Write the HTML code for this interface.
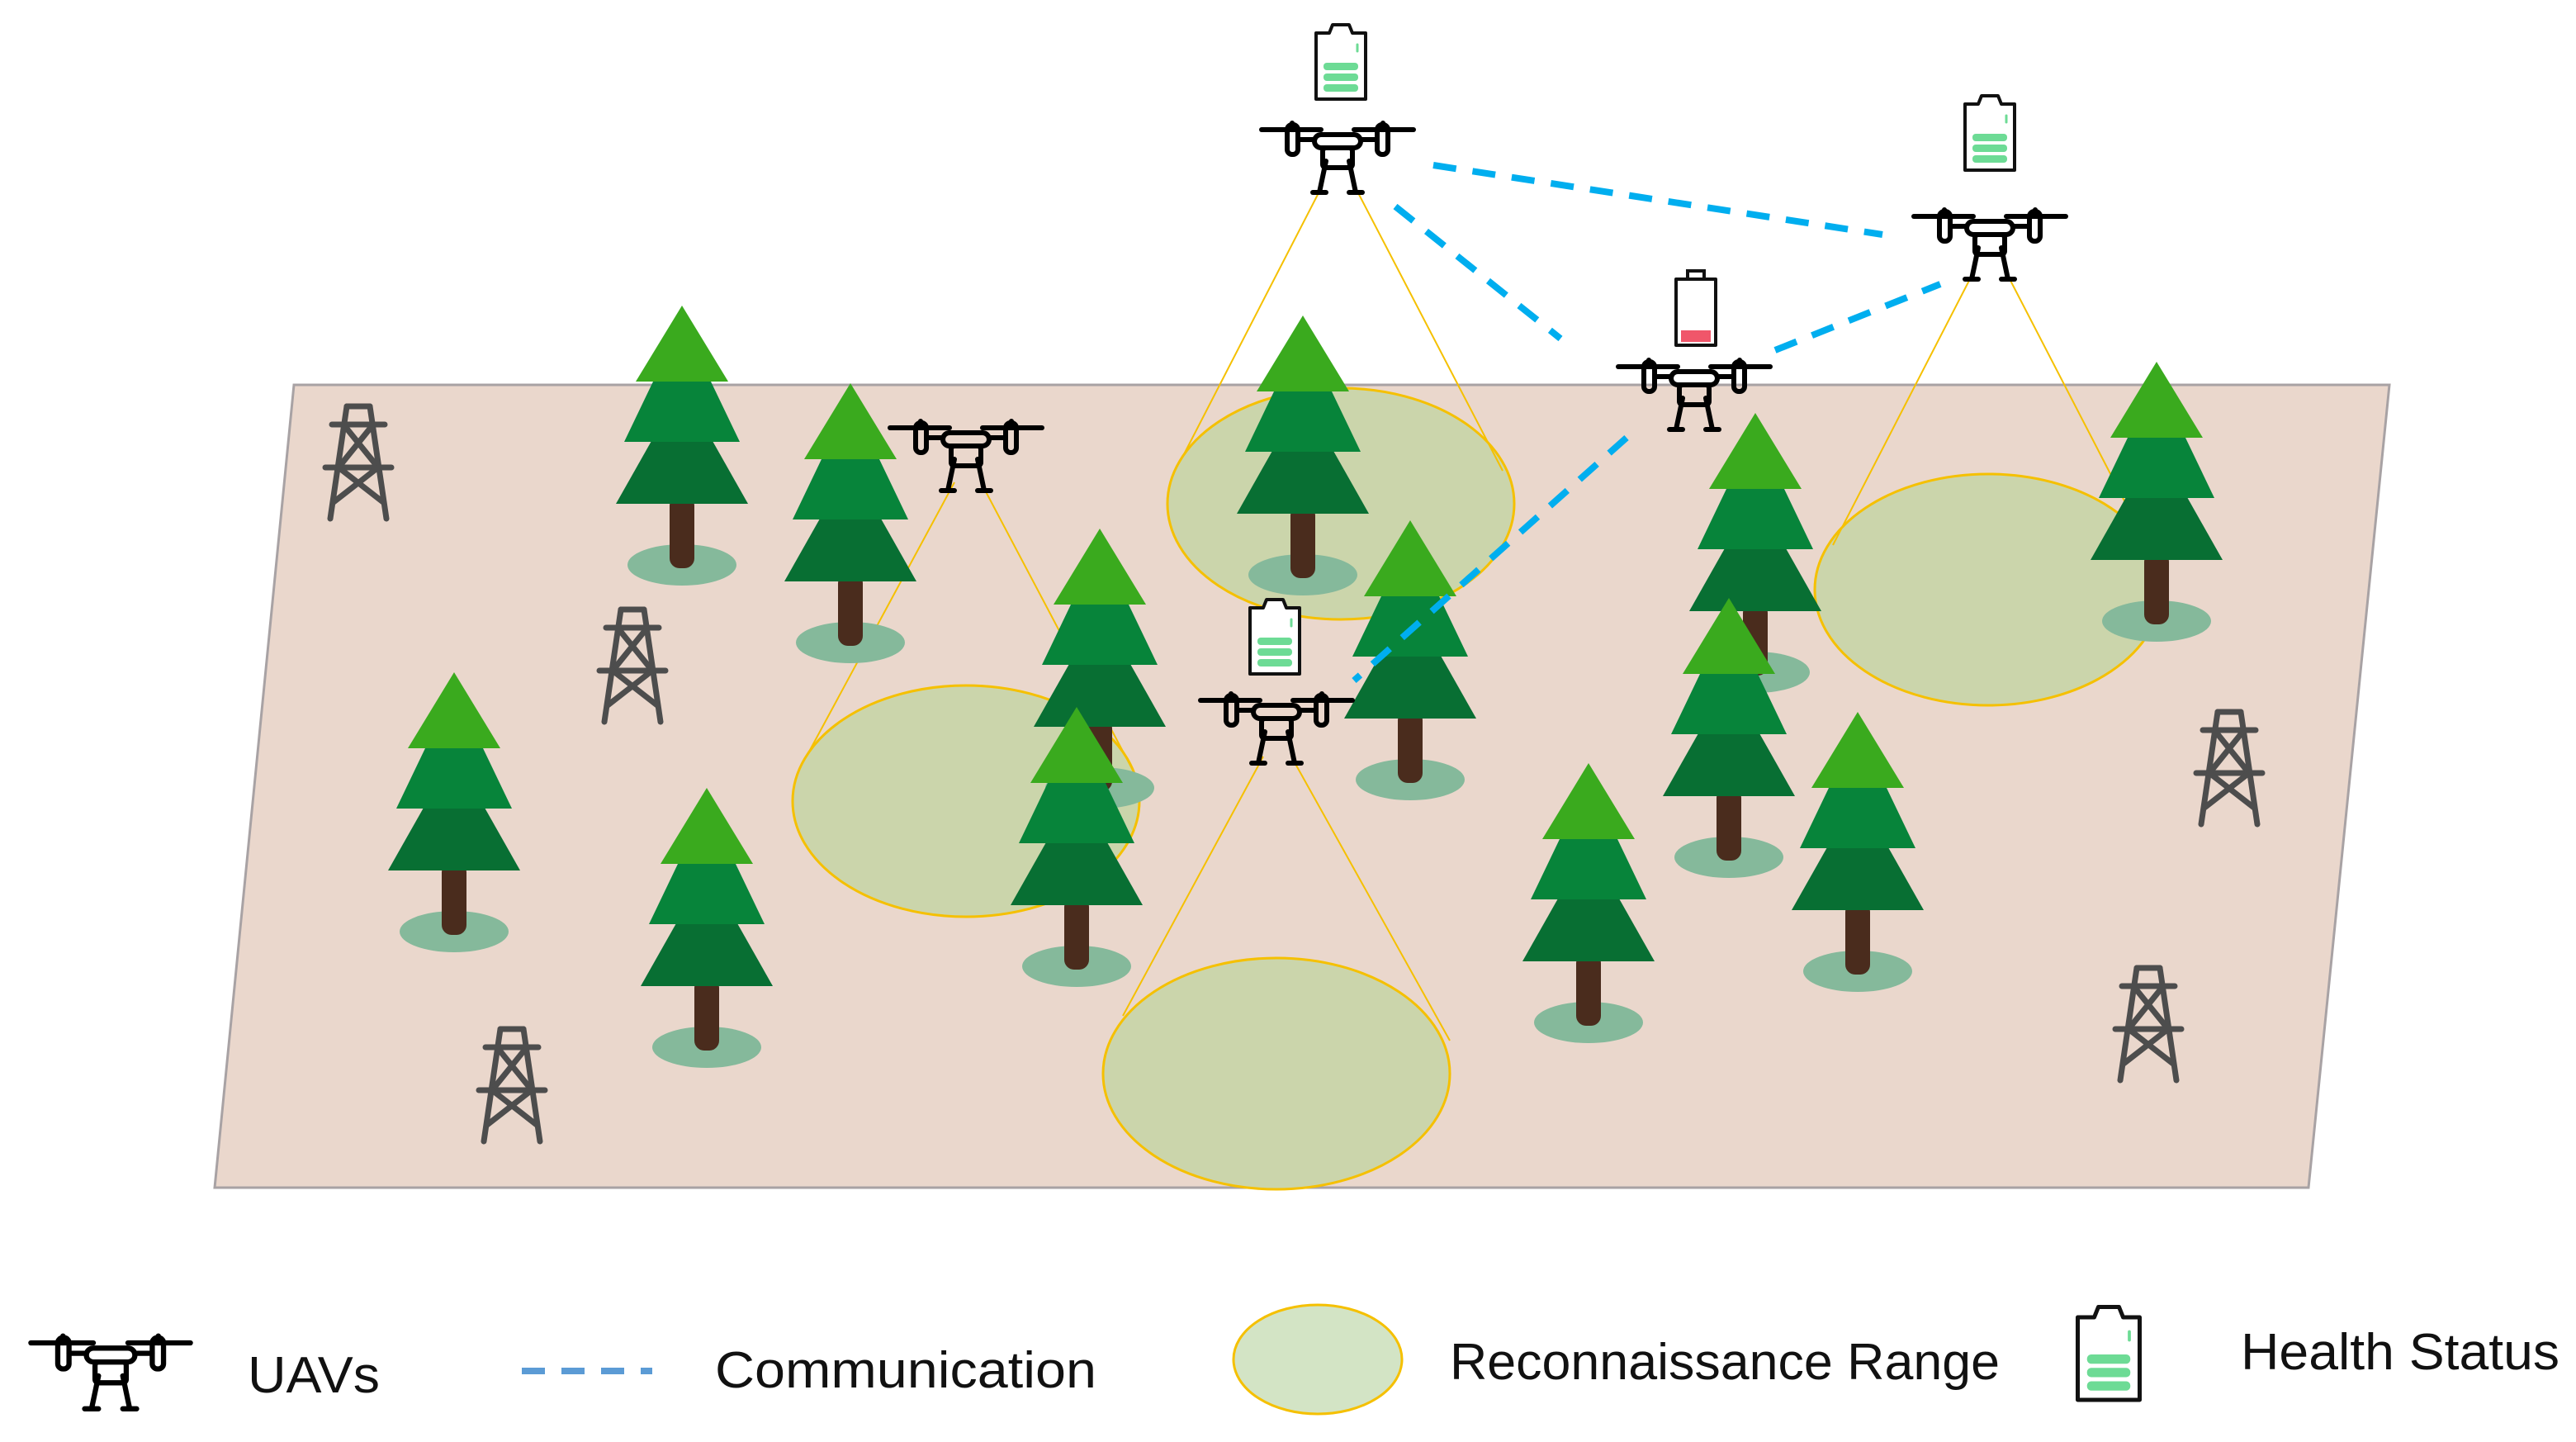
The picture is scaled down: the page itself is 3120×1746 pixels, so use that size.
<!DOCTYPE html>
<html><head><meta charset="utf-8"><style>html,body{margin:0;padding:0;background:#fff}svg{display:block}</style></head>
<body>
<svg width="3120" height="1746" viewBox="0 0 1560 873" xmlns="http://www.w3.org/2000/svg">
<defs>
<g id="tree">
<ellipse cx="0" cy="157" rx="33" ry="12.5" fill="#85b99b"/>
<rect x="-7.5" y="115" width="15" height="44" rx="6" fill="#4a2c1d"/>
<polygon points="-18.5,82 18.5,82 40,120 -40,120" fill="#086f33"/>
<polygon points="-17.5,46 17.5,46 35,82.5 -35,82.5" fill="#07843a"/>
<polygon points="0,0 -28,46 28,46" fill="#3aaa1e"/>
</g>
<g id="drone" fill="none" stroke="#000" stroke-width="3" stroke-linecap="round" stroke-linejoin="round">
<line x1="-46" y1="0" x2="-10" y2="0"/><line x1="10" y1="0" x2="46" y2="0"/>
<line x1="-27.5" y1="-4" x2="-27.5" y2="0"/><line x1="27.5" y1="-4" x2="27.5" y2="0"/>
<rect x="-30.5" y="-3" width="6.5" height="18" rx="3"/><rect x="24" y="-3" width="6.5" height="18" rx="3"/>
<line x1="-24" y1="6" x2="-14" y2="6"/><line x1="14" y1="6" x2="24" y2="6"/>
<rect x="-14" y="3" width="28" height="8" rx="4"/>
<rect x="-9" y="11" width="18" height="12" rx="2"/>
<path d="M-7,19 L-11,38"/><path d="M7,19 L11,38"/>
<line x1="-15" y1="38" x2="-7" y2="38"/><line x1="7" y1="38" x2="15" y2="38"/>
</g>
<g id="batt">
<path d="M-15,6 L-7,6 L-5,1 L5,1 L7,6 L15,6 L15,46 L-15,46 Z" fill="#fff" stroke="#111" stroke-width="2" stroke-linejoin="round"/>
<line x1="10" y1="13" x2="10" y2="17" stroke="#6ddb95" stroke-width="1.5" stroke-linecap="round"/>
<rect x="-10.5" y="24" width="21" height="4.5" rx="2" fill="#6ddb95"/>
<rect x="-10.5" y="30.5" width="21" height="4.5" rx="2" fill="#6ddb95"/>
<rect x="-10.5" y="37" width="21" height="4.5" rx="2" fill="#6ddb95"/>
</g>
<g id="battred">
<path d="M-12,6 L-12,46 L12,46 L12,6 Z" fill="#fff" stroke="#111" stroke-width="2" stroke-linejoin="round"/>
<rect x="-5" y="1" width="10" height="5" fill="#fff" stroke="#111" stroke-width="2"/>
<rect x="-9" y="37" width="18" height="7" fill="#f0566a"/>
</g>
<g id="tower" fill="none" stroke="#4d4d4d" stroke-width="3.5" stroke-linecap="round">
<line x1="-7" y1="0" x2="7" y2="0"/>
<line x1="-7" y1="0" x2="-17" y2="68"/><line x1="7" y1="0" x2="17" y2="68"/>
<line x1="-16" y1="11" x2="16" y2="11"/>
<line x1="-20" y1="37" x2="20" y2="37"/>
<line x1="-9" y1="11" x2="12" y2="37"/><line x1="9" y1="11" x2="-12" y2="37"/>
<line x1="-12" y1="37" x2="15" y2="58"/><line x1="12" y1="37" x2="-15" y2="58"/>
</g>
</defs>
<rect width="1560" height="873" fill="#fff"/>
<polygon points="178,233 1447,233 1398,719 130,719" fill="#ead7cc" stroke="#a8a2a4" stroke-width="1.5"/>
<g fill="#cbd5ab" stroke="#f5c000" stroke-width="1.5">
<ellipse cx="812" cy="305" rx="105" ry="70"/>
<ellipse cx="1204" cy="357" rx="105" ry="70"/>
<ellipse cx="585" cy="485" rx="105" ry="70"/>
<ellipse cx="773" cy="650" rx="105" ry="70"/>
</g>
<g stroke="#f5c000" stroke-width="1">
<line x1="801" y1="112" x2="717" y2="275"/><line x1="820" y1="112" x2="910" y2="285"/>
<line x1="1195" y1="165" x2="1110" y2="330"/><line x1="1215" y1="165" x2="1290" y2="310"/>
<line x1="578" y1="292" x2="490" y2="455"/><line x1="594" y1="292" x2="688" y2="470"/>
<line x1="765" y1="458" x2="680" y2="615"/><line x1="782" y1="458" x2="878" y2="630"/>
</g>
<use href="#tower" x="217" y="246"/>
<use href="#tower" x="383" y="369"/>
<use href="#tower" x="310" y="623"/>
<use href="#tower" x="1350" y="431"/>
<use href="#tower" x="1301" y="586"/>
<use href="#tree" x="413" y="185"/>
<use href="#tree" x="515" y="232"/>
<use href="#tree" x="789" y="191"/>
<use href="#tree" x="1306" y="219"/>
<use href="#tree" x="1063" y="250"/>
<use href="#tree" x="666" y="320"/>
<use href="#tree" x="854" y="315"/>
<use href="#tree" x="1047" y="362"/>
<use href="#tree" x="275" y="407"/>
<use href="#tree" x="652" y="428"/>
<use href="#tree" x="1125" y="431"/>
<use href="#tree" x="962" y="462"/>
<use href="#tree" x="428" y="477"/>
<g stroke="#00aeef" stroke-width="4" stroke-dasharray="14,10" fill="none">
<line x1="868" y1="100" x2="1140" y2="142"/>
<line x1="845" y1="125" x2="945" y2="205"/>
<line x1="1075" y1="212" x2="1175" y2="172"/>
<line x1="985" y1="265" x2="820" y2="412"/>
</g>
<use href="#drone" x="810" y="78.5"/>
<use href="#drone" x="1205" y="131"/>
<use href="#drone" x="585" y="259"/>
<use href="#drone" x="1026" y="222"/>
<use href="#drone" x="773" y="424"/>
<use href="#batt" x="812" y="14"/>
<use href="#batt" x="1205" y="57"/>
<use href="#battred" x="1027" y="163"/>
<use href="#batt" x="772" y="362"/>
<use href="#drone" transform="translate(67,813) scale(1.05)"/>
<line x1="316" y1="830" x2="395" y2="830" stroke="#5b9bd5" stroke-width="4" stroke-dasharray="14,10"/>
<ellipse cx="798" cy="823" rx="51" ry="33" fill="#d3e4c5" stroke="#f5c000" stroke-width="1.5"/>
<use href="#batt" transform="translate(1277,790) scale(1.25)"/>
<g font-family="Liberation Sans, sans-serif" font-size="31" fill="#111">
<text x="150" y="843" textLength="80" lengthAdjust="spacingAndGlyphs">UAVs</text>
<text x="433" y="840" textLength="231" lengthAdjust="spacingAndGlyphs">Communication</text>
<text x="878" y="835" textLength="333" lengthAdjust="spacingAndGlyphs">Reconnaissance Range</text>
<text x="1357" y="829" textLength="193" lengthAdjust="spacingAndGlyphs">Health Status</text>
</g>
</svg>
</body></html>
